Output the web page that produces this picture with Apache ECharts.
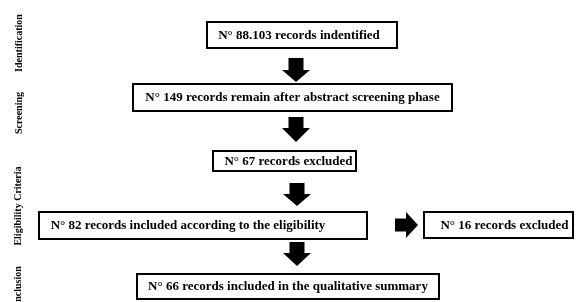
<!DOCTYPE html>
<html>
<head>
<meta charset="utf-8">
<script src="https://cdn.jsdelivr.net/npm/echarts@6/dist/echarts.min.js"></script>
<style>
  html, body { margin: 0; padding: 0; background: #fff; }
  #chart { width: 576px; height: 302px; }
</style>
</head>
<body>
<div id="chart"></div>
<script>
// phases of the review, shown rotated on the left
const stages = ['Identification', 'Screening', 'Eligibility Criteria', 'Inclusion'];

// text of each step box
const boxTexts = [
  'N° 88.103 records indentified',
  'N° 149 records remain after abstract screening phase',
  'N° 67 records excluded',
  'N° 82 records included according to the eligibility',
  'N° 16 records excluded',
  'N° 66 records included in the qualitative summary'
];

// layout (pixel units of the hidden axes): [x0, y0, x1, y1, text x offset]
const boxLayout = [
  [207, 22, 397, 48, -3],
  [133, 84, 452, 111, 0],
  [213, 151, 356, 171, 4],
  [39, 212, 367, 239, -15],
  [424, 212, 573, 238, 6],
  [137, 274, 439, 299, 0]
];
// block arrows: down -> cx, top, headStart, tip ; right -> cy, left, headStart, tip
const arrowLayout = [
  ['down', 296, 58, 70, 82],
  ['down', 296, 117, 128, 142],
  ['down', 297, 183, 194, 206],
  ['down', 297, 242, 253, 266],
  ['right', 225, 395, 406, 418]
];
const stageLayout = [[19, 43], [19, 113], [18, 206], [18, 286]];

const FONT = 'bold 13px "Liberation Serif", "Times New Roman", serif';
const SIDE_FONT = 'bold 10px "Liberation Serif", "Times New Roman", serif';

let chart = echarts.init(document.getElementById('chart'));

let option = {
  animation: false,
  backgroundColor: '#fff',
  grid: { left: 0, right: 0, top: 0, bottom: 0 },
  xAxis: { type: 'value', min: 0, max: 576, show: false },
  yAxis: { type: 'value', min: 0, max: 302, inverse: true, show: false },
  series: [
    {
      // arrows
      type: 'custom',
      coordinateSystem: 'cartesian2d',
      data: arrowLayout.map((a, i) => [a[1], a[2], a[3], a[4], i]),
      renderItem: function (params, api) {
        let dir = arrowLayout[params.dataIndex][0];
        let pts;
        if (dir === 'down') {
          let cx = api.value(0), top = api.value(1), hs = api.value(2), tip = api.value(3);
          let sw = 7.5, hw = 14;
          pts = [[cx - sw, top], [cx + sw, top], [cx + sw, hs], [cx + hw, hs], [cx, tip],
                 [cx - hw, hs], [cx - sw, hs]];
        } else {
          let cy = api.value(0), left = api.value(1), hs = api.value(2), tip = api.value(3);
          let sw = 6.5, hw = 13;
          pts = [[left, cy - sw], [hs, cy - sw], [hs, cy - hw], [tip, cy], [hs, cy + hw],
                 [hs, cy + sw], [left, cy + sw]];
        }
        return {
          type: 'polygon',
          shape: { points: pts.map(p => api.coord(p)) },
          style: { fill: '#000' }
        };
      }
    },
    {
      // boxes
      type: 'custom',
      coordinateSystem: 'cartesian2d',
      data: boxLayout.map((b, i) => [b[0], b[1], b[2], b[3], i]),
      renderItem: function (params, api) {
        let p0 = api.coord([api.value(0), api.value(1)]);
        let p1 = api.coord([api.value(2), api.value(3)]);
        let dx = boxLayout[params.dataIndex][4];
        return {
          type: 'group',
          children: [
            {
              type: 'rect',
              shape: { x: p0[0], y: p0[1], width: p1[0] - p0[0], height: p1[1] - p0[1] },
              style: { fill: '#fff', stroke: '#000', lineWidth: 2 }
            },
            {
              type: 'text',
              x: (p0[0] + p1[0]) / 2 + dx,
              y: (p0[1] + p1[1]) / 2 + 0.5,
              style: {
                text: boxTexts[params.dataIndex],
                font: FONT,
                fill: '#000',
                align: 'center',
                verticalAlign: 'middle'
              }
            }
          ]
        };
      }
    },
    {
      // stage labels
      type: 'custom',
      coordinateSystem: 'cartesian2d',
      data: stageLayout.map((s, i) => [s[0], s[1], i]),
      renderItem: function (params, api) {
        let p = api.coord([api.value(0), api.value(1)]);
        return {
          type: 'text',
          x: p[0],
          y: p[1],
          rotation: Math.PI / 2,
          style: {
            text: stages[params.dataIndex],
            font: SIDE_FONT,
            fill: '#000',
            align: 'center',
            verticalAlign: 'middle'
          }
        };
      }
    }
  ]
};

chart.setOption(option);
</script>
</body>
</html>
